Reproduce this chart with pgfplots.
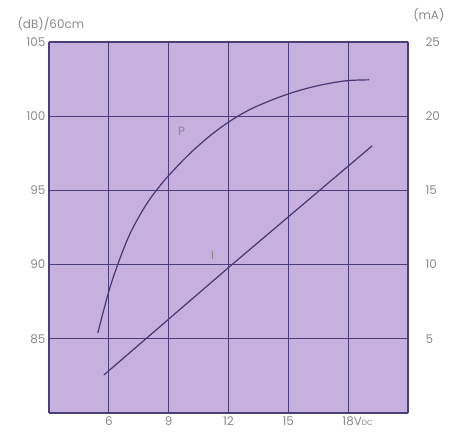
\documentclass[border=0pt]{standalone}
\usepackage{fontspec}
\setmainfont{Poppins}
\usepackage{pgfplots}
\pgfplotsset{compat=1.18}
\definecolor{bg}{HTML}{C6B0DE}
\definecolor{gridc}{HTML}{4A3E78}
\definecolor{curvec}{HTML}{463870}
\definecolor{txt}{HTML}{8A8A8A}
\begin{document}
\begin{tikzpicture}
\pgfplotsset{
  common/.style={scale only axis, width=359bp, height=371bp, xmin=3, xmax=21,
    /pgf/number format/assume math mode=true,
    tick style={draw=none},
    tick label style={txt, font=\fontsize{12}{14}\selectfont},
  }
}
\begin{axis}[common, name=ax1,
  ymin=80, ymax=105,
  axis background/.style={fill=bg},
  axis line style={gridc, line width=1.1pt},
  xtick={6,9,12,15,18},
  xticklabels={6,9,12,15,{18\rlap{V{\fontsize{7.5}{8}\selectfont DC}}}},
  ytick={85,90,95,100,105},
  grid=major, grid style={gridc, line width=1.1pt},
  axis y line*=left,
]
\addplot[curvec, line width=1.2pt, smooth, tension=0.6] coordinates {
  (5.45,85.4) (6.0,88.2) (6.5,90.2) (7.0,91.9) (7.5,93.2) (8.0,94.3) (8.5,95.2)
  (9.0,96.0) (10.0,97.4) (11.0,98.6) (12.0,99.6) (13.0,100.4) (14.0,101.0)
  (15.0,101.5) (16.0,101.9) (17.0,102.2) (18.0,102.4) (19.05,102.45)
};
\node[txt, font=\fontsize{12}{14}\selectfont] at (axis cs:9.65,99.0) {P};
\node[txt, font=\fontsize{12}{14}\selectfont] at (axis cs:11.2,90.6) {I};
\end{axis}
\begin{axis}[common,
  ymin=0, ymax=25,
  axis y line*=right, axis x line=none,
  axis line style={gridc, line width=1.1pt},
  ytick={5,10,15,20,25},
  yticklabel style={anchor=west, xshift=14bp},
]
\addplot[curvec, line width=1.2pt] coordinates {
  (5.75,2.56) (12.0,9.8) (19.2,18.0)
};
\end{axis}
\node[txt, font=\fontsize{12}{14}\selectfont, anchor=west] at ([xshift=-35bp, yshift=18bp]ax1.north west) {(dB)/60cm};
\node[txt, font=\fontsize{12}{14}\selectfont, anchor=east] at ([xshift=40bp, yshift=27bp]ax1.north east) {(mA)};
\path ([xshift=-49bp, yshift=-24bp]ax1.south west) rectangle ([xshift=53bp, yshift=42bp]ax1.north east);
\end{tikzpicture}
\end{document}
